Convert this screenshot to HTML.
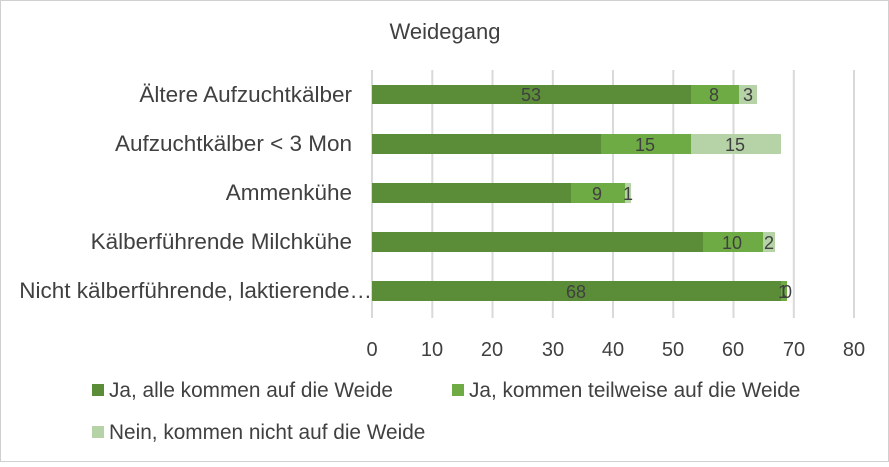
<!DOCTYPE html>
<html><head><meta charset="utf-8"><style>
body{margin:0;background:#fff;}
svg text{font-family:"Liberation Sans",sans-serif;fill:#404040;}
</style></head><body>
<svg width="889" height="462" xmlns="http://www.w3.org/2000/svg">
<rect x="0.5" y="0.5" width="888" height="461" fill="#fff" stroke="#d0d0d0"/>
<text x="445" y="39" font-size="22" text-anchor="middle">Weidegang</text>
<g stroke="#d9d9d9" stroke-width="2">
<line x1="372" y1="70" x2="372" y2="318"/><line x1="432.3" y1="70" x2="432.3" y2="318"/>
<line x1="492.5" y1="70" x2="492.5" y2="318"/><line x1="552.8" y1="70" x2="552.8" y2="318"/>
<line x1="613" y1="70" x2="613" y2="318"/><line x1="673.3" y1="70" x2="673.3" y2="318"/>
<line x1="733.5" y1="70" x2="733.5" y2="318"/><line x1="793.8" y1="70" x2="793.8" y2="318"/>
<line x1="854" y1="70" x2="854" y2="318"/>
</g>
<g font-size="20" text-anchor="middle">
<text x="372" y="356">0</text><text x="432" y="356">10</text><text x="492" y="356">20</text><text x="553" y="356">30</text><text x="613" y="356">40</text><text x="673" y="356">50</text><text x="733" y="356">60</text><text x="794" y="356">70</text><text x="854" y="356">80</text>
</g>
<g font-size="22.5" text-anchor="end">
<text x="352" y="102">Ältere Aufzuchtkälber</text>
<text x="352" y="151">Aufzuchtkälber &lt; 3 Mon</text>
<text x="352" y="200">Ammenkühe</text>
<text x="352" y="249">Kälberführende Milchkühe</text>
<text x="372" y="298">Nicht kälberführende, laktierende…</text>
</g>
<g>
<rect x="372" y="85" width="319" height="19" fill="#5b8c37"/><rect x="691" y="85" width="48" height="19" fill="#6eab45"/><rect x="739" y="85" width="18" height="19" fill="#b5d3a7"/>
<rect x="372" y="134" width="229" height="20" fill="#5b8c37"/><rect x="601" y="134" width="90" height="20" fill="#6eab45"/><rect x="691" y="134" width="90" height="20" fill="#b5d3a7"/>
<rect x="372" y="183" width="199" height="20" fill="#5b8c37"/><rect x="571" y="183" width="54" height="20" fill="#6eab45"/><rect x="625" y="183" width="6" height="20" fill="#b5d3a7"/>
<rect x="372" y="232" width="331" height="20" fill="#5b8c37"/><rect x="703" y="232" width="60" height="20" fill="#6eab45"/><rect x="763" y="232" width="12" height="20" fill="#b5d3a7"/>
<rect x="372" y="281" width="409" height="20" fill="#5b8c37"/><rect x="781" y="281" width="6" height="20" fill="#6eab45"/>
</g>
<g font-size="18" text-anchor="middle">
<text x="531" y="101">53</text><text x="714" y="101">8</text><text x="748" y="101">3</text>
<text x="645" y="151">15</text><text x="735" y="151">15</text>
<text x="597" y="200">9</text><text x="628" y="200">1</text>
<text x="732" y="249">10</text><text x="769" y="249">2</text>
<text x="576" y="298">68</text><text x="783" y="298">1</text><text x="787" y="298">0</text>
</g>
<g font-size="20.8">
<rect x="92" y="384" width="12" height="12" fill="#5b8c37"/><text x="109" y="397">Ja, alle kommen auf die Weide</text>
<rect x="452" y="384" width="12" height="12" fill="#6eab45"/><text x="469" y="397">Ja, kommen teilweise auf die Weide</text>
<rect x="92" y="426" width="12" height="12" fill="#b5d3a7"/><text x="109" y="439">Nein, kommen nicht auf die Weide</text>
</g>
</svg>
</body></html>
